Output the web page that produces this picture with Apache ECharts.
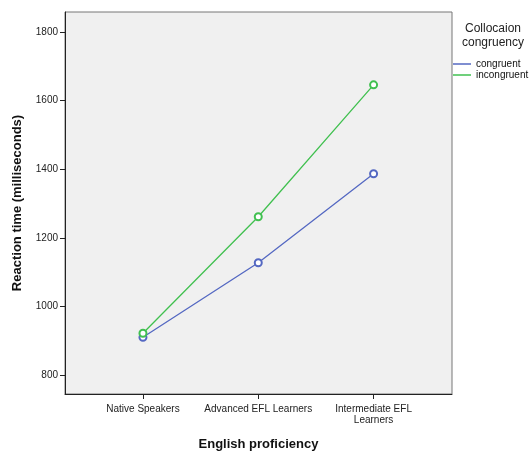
<!DOCTYPE html>
<html><head><meta charset="utf-8">
<script src="https://cdn.jsdelivr.net/npm/echarts@6/dist/echarts.min.js"></script>
<style>html,body{margin:0;padding:0;background:#fff}#c{width:529px;height:452px}</style>
</head><body><div id="c"></div>
<script>
const categories = ['Native Speakers', 'Advanced EFL Learners', 'Intermediate EFL\nLearners'];
const congruent = [911, 1128, 1387];
const incongruent = [923, 1262, 1646];
const yTicks = [800, 1000, 1200, 1400, 1600, 1800];
const seriesNames = ['congruent', 'incongruent'];

const chart = echarts.init(document.getElementById('c'));
const toPts = arr => arr.map((v, i) => [i, v]);
chart.setOption({
  animation: false,
  backgroundColor: '#fff',
  title: {
    text: 'Collocaion\ncongruency',
    left: 488, top: 17, textAlign: 'center',
    textStyle: {fontFamily: 'Liberation Sans', fontSize: 12, fontWeight: 'normal', color: '#222', lineHeight: 14}
  },
  legend: {
    orient: 'vertical', left: 448, top: 54, itemGap: 1, padding: 5,
    icon: 'rect', itemWidth: 18, itemHeight: 1.5,
    textStyle: {fontFamily: 'Liberation Sans', fontSize: 10, color: '#111'},
    data: seriesNames
  },
  grid: {left: 65, right: 77, top: 12, bottom: 58, outerBoundsMode: 'none', containLabel: false,
         show: true, backgroundColor: '#f0f0f0', borderColor: '#777', borderWidth: 1},
  xAxis: {
    type: 'value', min: -0.676, max: 2.68,
    name: 'English proficiency', nameLocation: 'middle', nameGap: 44,
    nameTextStyle: {fontFamily: 'Liberation Sans', fontSize: 13, fontWeight: 'bold', color: '#111'},
    axisLine: {show: true, onZero: false, lineStyle: {color: '#222'}},
    axisTick: {show: true, length: 5, customValues: [0, 1, 2], lineStyle: {color: '#222'}},
    axisLabel: {customValues: [0, 1, 2], formatter: v => categories[Math.round(v)], fontFamily: 'Liberation Sans', fontSize: 10, color: '#222', lineHeight: 11, margin: 10},
    splitLine: {show: false}
  },
  yAxis: {
    type: 'value', min: 746, max: 1858,
    name: 'Reaction time (milliseconds)', nameLocation: 'middle', nameGap: 41,
    nameTextStyle: {fontFamily: 'Liberation Sans', fontSize: 13, fontWeight: 'bold', color: '#111'},
    axisLine: {show: true, onZero: false, lineStyle: {color: '#222'}},
    axisTick: {show: true, length: 5, customValues: yTicks, lineStyle: {color: '#222'}},
    axisLabel: {customValues: yTicks, formatter: v => String(v), fontFamily: 'Liberation Sans', fontSize: 10, color: '#222', margin: 7},
    splitLine: {show: false}
  },
  series: [
    {name: seriesNames[0], type: 'line', data: toPts(congruent), symbol: 'emptyCircle', symbolSize: 7,
     itemStyle: {color: '#5468c2'}, lineStyle: {width: 1.3, color: '#5468c2'}},
    {name: seriesNames[1], type: 'line', data: toPts(incongruent), symbol: 'emptyCircle', symbolSize: 7,
     itemStyle: {color: '#41c050'}, lineStyle: {width: 1.3, color: '#41c050'}}
  ]
});
</script></body></html>
